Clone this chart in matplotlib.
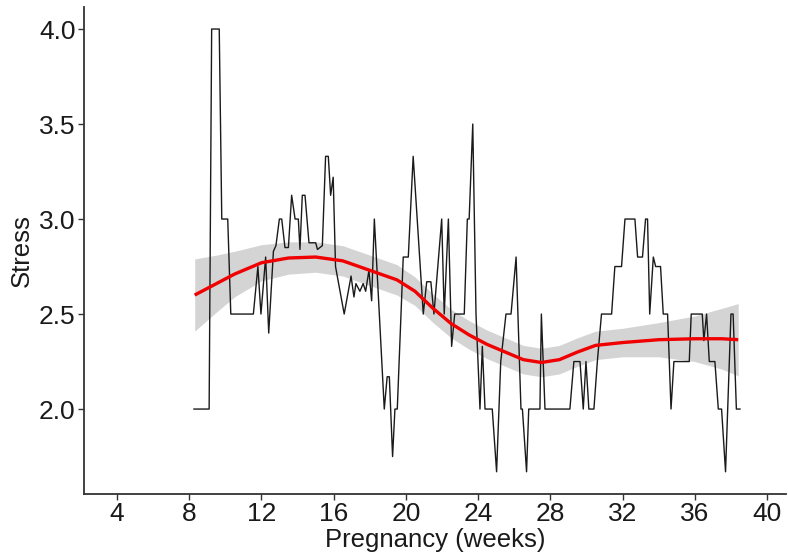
import numpy as np
import matplotlib
matplotlib.use("Agg")
import matplotlib.pyplot as plt

# weekly stress trace (black line)
weeks = [8.26, 9.1, 9.24, 9.66, 9.8, 10.13, 10.3, 11.55, 11.8, 11.97, 12.23, 12.4,
         12.66, 12.8, 12.99, 13.12, 13.3, 13.49, 13.67, 13.86, 14.04, 14.13, 14.26,
         14.41, 14.63, 15.0, 15.1, 15.37, 15.55, 15.7, 15.83, 15.97, 16.1, 16.58,
         16.96, 17.12, 17.23, 17.45, 17.63, 17.77, 17.95, 18.1, 18.25, 18.8, 18.96,
         19.08, 19.26, 19.39, 19.52, 19.85, 20.13, 20.4, 20.96, 21.15, 21.38, 21.55,
         21.98, 22.12, 22.35, 22.53, 22.7, 23.23, 23.4, 23.5, 23.7, 23.88, 24.1,
         24.23, 24.38, 24.78, 25.02, 25.25, 25.54, 25.82, 26.1, 26.37, 26.45, 26.68,
         26.8, 27.42, 27.5, 27.7, 29.08, 29.3, 29.64, 29.82, 29.97, 30.13, 30.41,
         30.6, 30.83, 31.39, 31.57, 31.94, 32.13, 32.68, 32.83, 33.1, 33.27, 33.38,
         33.5, 33.7, 33.83, 34.1, 34.25, 34.49, 34.68, 34.84, 35.69, 35.8, 36.41,
         36.5, 36.65, 36.8, 37.11, 37.3, 37.48, 37.7, 38.0, 38.12, 38.3, 38.5]
stress = [2.0, 2.0, 4.0, 4.0, 3.0, 3.0, 2.5, 2.5, 2.75, 2.5, 2.8, 2.4,
          2.83, 2.86, 3.0, 3.0, 2.85, 2.85, 3.125, 3.0, 3.0, 2.84, 3.125,
          3.125, 2.875, 2.875, 2.84, 2.86, 3.33, 3.33, 3.125, 3.22, 2.75, 2.5,
          2.7, 2.59, 2.66, 2.62, 2.66, 2.62, 2.73, 2.57, 3.0, 2.0, 2.17,
          2.17, 1.75, 2.0, 2.0, 2.8, 2.8, 3.33, 2.5, 2.67, 2.67, 2.5,
          3.0, 2.5, 3.0, 2.33, 2.5, 2.5, 3.0, 3.0, 3.5, 2.5, 2.0,
          2.33, 2.0, 2.0, 1.67, 2.25, 2.5, 2.5, 2.8, 2.0, 2.0, 1.67,
          2.0, 2.0, 2.5, 2.0, 2.0, 2.25, 2.25, 2.0, 2.25, 2.0, 2.0,
          2.25, 2.5, 2.5, 2.75, 2.75, 3.0, 3.0, 2.8, 2.8, 3.0, 3.0,
          2.5, 2.8, 2.75, 2.75, 2.5, 2.5, 2.0, 2.25, 2.25, 2.5, 2.5,
          2.36, 2.5, 2.25, 2.25, 2.0, 2.0, 1.67, 2.5, 2.5, 2.0, 2.0]

# smoothed fit (red) and its confidence band (grey)
fit_weeks = [8.3, 9.5, 10.5, 12, 13.5, 15, 16.5, 18, 19.5, 20.5, 21.5, 22.5, 23.5,
             24.5, 25.5, 26.5, 27.5, 28.5, 29.5, 30.5, 32, 34, 36, 37.5, 38.4]
fit = [2.60, 2.66, 2.71, 2.77, 2.795, 2.80, 2.78, 2.73, 2.68, 2.62, 2.53, 2.45, 2.39,
       2.34, 2.30, 2.26, 2.245, 2.26, 2.30, 2.335, 2.35, 2.365, 2.37, 2.37, 2.365]
fit_lo = [2.41, 2.51, 2.59, 2.675, 2.71, 2.72, 2.70, 2.65, 2.60, 2.545, 2.455, 2.375, 2.315,
          2.265, 2.225, 2.185, 2.17, 2.185, 2.225, 2.26, 2.275, 2.275, 2.25, 2.21, 2.175]
fit_hi = [2.79, 2.81, 2.83, 2.865, 2.88, 2.88, 2.86, 2.81, 2.76, 2.695, 2.605, 2.525, 2.465,
          2.415, 2.375, 2.335, 2.32, 2.335, 2.375, 2.41, 2.425, 2.455, 2.49, 2.53, 2.555]

xticks = [4, 8, 12, 16, 20, 24, 28, 32, 36, 40]
yticks = [2.0, 2.5, 3.0, 3.5, 4.0]

plt.rcParams['font.family'] = ['Liberation Sans', 'DejaVu Sans']

fig = plt.figure(figsize=(7.88, 5.59), dpi=100)
ax = fig.add_axes([0.1066, 0.1163, 0.8909, 0.8712])

ax.fill_between(fit_weeks, fit_lo, fit_hi, color='#d4d4d4', lw=0, zorder=1)
ax.plot(weeks, stress, color='#1a1a1a', lw=1.0, zorder=2)
ax.plot(fit_weeks, fit, color='#f00000', lw=2.4, zorder=3, solid_capstyle='butt')

ax.set_xlim(2.17, 41.05)
ax.set_ylim(1.553, 4.116)
ax.set_xticks(xticks)
ax.set_xticklabels([str(t) for t in xticks])
ax.set_yticks(yticks)
ax.set_yticklabels(['%.1f' % t for t in yticks])

ax.tick_params(axis='both', labelsize=19, length=4, width=1, color='#333333',
               labelcolor='#1a1a1a', pad=2)
ax.set_xlabel('Pregnancy (weeks)', fontsize=18.5, color='#1a1a1a', labelpad=1)
ax.set_ylabel('Stress', fontsize=18.5, color='#1a1a1a', labelpad=4)

for s in ['top', 'right']:
    ax.spines[s].set_visible(False)
for s in ['left', 'bottom']:
    ax.spines[s].set_color('#333333')
    ax.spines[s].set_linewidth(1.3)

plt.savefig('out.png', dpi=100)
plt.close()
